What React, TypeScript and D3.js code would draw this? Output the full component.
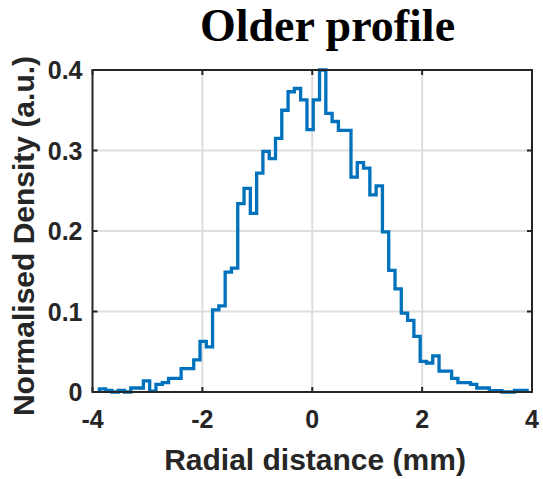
import React, { useRef, useEffect } from 'react';
import * as d3 from 'd3';

// histogram bins (mm) and normalised density per bin
const binStart = -3.875;
const binWidth = 0.1145;
const density = [
  0.004, 0.002, 0, 0.002, 0, 0.005, 0.005, 0.0137, 0.001, 0.0095,
  0.0116, 0.017, 0.017, 0.029, 0.029, 0.04, 0.063, 0.056, 0.102, 0.107,
  0.149, 0.154, 0.234, 0.253, 0.222, 0.272, 0.299, 0.29, 0.315, 0.35,
  0.373, 0.377, 0.363, 0.326, 0.363, 0.4, 0.346, 0.336, 0.325, 0.325,
  0.267, 0.285, 0.278, 0.245, 0.256, 0.199, 0.151, 0.128, 0.098, 0.089,
  0.069, 0.038, 0.036, 0.045, 0.026, 0.026, 0.017, 0.0116, 0.0116, 0.0095,
  0.005, 0.005, 0.0017, 0.0017, 0, 0, 0.002, 0.002,
];
const xTicks = [-4, -2, 0, 2, 4];
const yTicks = [0, 0.1, 0.2, 0.3, 0.4];
const yTickLabels = ['0', '0.1', '0.2', '0.3', '0.4'];

const App: React.FC = () => {
  const svgRef = useRef<SVGSVGElement>(null);

  useEffect(() => {
    const svg = d3.select(svgRef.current);
    svg.selectAll('*').remove();

    const width = 543;
    const height = 479;
    const margin = { top: 70, right: 11, bottom: 87, left: 92.5 };
    const axisColor = '#262626';
    const sans = 'Liberation Sans, Arial, sans-serif';

    const x = d3.scaleLinear().domain([-4, 4]).range([margin.left, width - margin.right]);
    const y = d3.scaleLinear().domain([0, 0.4]).range([height - margin.bottom, margin.top]);

    // grid
    const grid = svg.append('g').attr('stroke', '#dedede').attr('stroke-width', 2);
    grid.selectAll('line.gx')
      .data(xTicks.slice(1, -1))
      .join('line')
      .attr('x1', d => x(d)).attr('x2', d => x(d))
      .attr('y1', y(0)).attr('y2', y(0.4));
    grid.selectAll('line.gy')
      .data(yTicks.slice(1, -1))
      .join('line')
      .attr('class', 'gy')
      .attr('x1', x(-4)).attr('x2', x(4))
      .attr('y1', d => y(d)).attr('y2', d => y(d));

    // stairs
    const pts: [number, number][] = [[binStart, 0]];
    density.forEach((v, i) => pts.push([binStart + i * binWidth, v]));
    const end = binStart + density.length * binWidth;
    pts.push([end, density[density.length - 1]]);
    pts.push([end, 0]);

    const line = d3.line<[number, number]>()
      .x(d => x(d[0]))
      .y(d => y(d[1]))
      .curve(d3.curveStepAfter);

    svg.append('path')
      .datum(pts)
      .attr('fill', 'none')
      .attr('stroke', '#0072BD')
      .attr('stroke-width', 3.3)
      .attr('stroke-linejoin', 'miter')
      .attr('d', line);

    // box
    svg.append('rect')
      .attr('x', x(-4)).attr('y', y(0.4))
      .attr('width', x(4) - x(-4)).attr('height', y(0) - y(0.4))
      .attr('fill', 'none')
      .attr('stroke', axisColor)
      .attr('stroke-width', 2);

    // inward ticks on all sides
    const tl = 5;
    const ticks = svg.append('g').attr('stroke', axisColor).attr('stroke-width', 2);
    xTicks.forEach(t => {
      ticks.append('line').attr('x1', x(t)).attr('x2', x(t)).attr('y1', y(0)).attr('y2', y(0) - tl);
      ticks.append('line').attr('x1', x(t)).attr('x2', x(t)).attr('y1', y(0.4)).attr('y2', y(0.4) + tl);
    });
    yTicks.forEach(t => {
      ticks.append('line').attr('x1', x(-4)).attr('x2', x(-4) + tl).attr('y1', y(t)).attr('y2', y(t));
      ticks.append('line').attr('x1', x(4)).attr('x2', x(4) - tl).attr('y1', y(t)).attr('y2', y(t));
    });

    // tick labels
    svg.append('g')
      .selectAll('text')
      .data(xTicks)
      .join('text')
      .attr('x', d => x(d))
      .attr('y', y(0) + 36)
      .attr('text-anchor', 'middle')
      .attr('font-family', sans)
      .attr('font-weight', 'bold')
      .attr('font-size', 25)
      .attr('fill', axisColor)
      .text(d => String(d));

    svg.append('g')
      .selectAll('text')
      .data(yTicks)
      .join('text')
      .attr('x', x(-4) - 10)
      .attr('y', d => y(d) + 9)
      .attr('text-anchor', 'end')
      .attr('font-family', sans)
      .attr('font-weight', 'bold')
      .attr('font-size', 25)
      .attr('fill', axisColor)
      .text((d, i) => yTickLabels[i]);

    // axis labels
    svg.append('text')
      .attr('x', 315)
      .attr('y', 470)
      .attr('text-anchor', 'middle')
      .attr('font-family', sans)
      .attr('font-weight', 'bold')
      .attr('font-size', 30)
      .attr('fill', axisColor)
      .text('Radial distance (mm)');

    svg.append('text')
      .attr('transform', `translate(34,236) rotate(-90)`)
      .attr('text-anchor', 'middle')
      .attr('font-family', sans)
      .attr('font-weight', 'bold')
      .attr('font-size', 30)
      .attr('fill', axisColor)
      .text('Normalised Density (a.u.)');

    // title
    svg.append('text')
      .attr('x', 327.5)
      .attr('y', 41)
      .attr('text-anchor', 'middle')
      .attr('font-family', 'Liberation Serif, Times New Roman, serif')
      .attr('font-weight', 'bold')
      .attr('font-size', 46)
      .attr('fill', '#000')
      .text('Older profile');
  }, []);

  return (
    <svg
      ref={svgRef}
      width={543}
      height={479}
      style={{ position: 'absolute', left: 0, top: 0, background: '#fff' }}
    />
  );
};

export default App;
